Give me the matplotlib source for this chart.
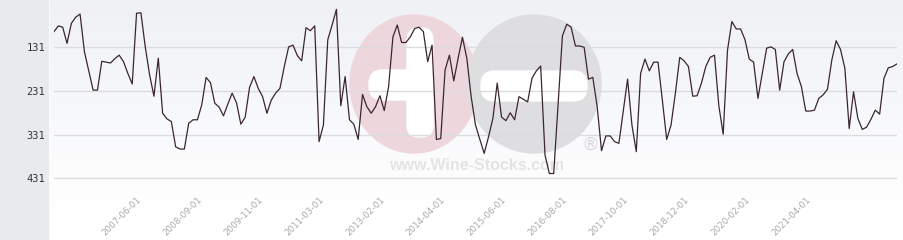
import matplotlib.pyplot as plt
import matplotlib.patches as mpatches
import numpy as np

# rank history (lower = better), one value per observation
ranks = [95, 82, 85, 122, 76, 62, 55, 141, 185, 229,
         229, 163, 165, 167, 157, 149, 164, 191, 215, 53,
         52, 130, 194, 243, 156, 282, 295, 301, 359, 364,
         364, 305, 297, 297, 263, 200, 212, 259, 268, 288,
         261, 236, 258, 307, 291, 223, 198, 225, 244, 282,
         252, 236, 225, 175, 130, 126, 150, 162, 86, 93,
         82, 347, 309, 114, 80, 44, 265, 198, 297, 307,
         342, 239, 267, 282, 267, 242, 276, 221, 107, 80,
         120, 120, 107, 88, 85, 95, 164, 126, 342, 340,
         183, 149, 208, 156, 108, 156, 244, 309, 342, 374,
         336, 294, 213, 291, 299, 281, 297, 244, 250, 256,
         202, 185, 174, 378, 420, 420, 261, 105, 78, 85,
         128, 128, 131, 204, 200, 267, 368, 334, 334, 347,
         351, 278, 204, 309, 370, 191, 158, 185, 165, 165,
         252, 342, 309, 236, 154, 162, 175, 243, 242, 213,
         175, 154, 149, 265, 330, 137, 72, 89, 89, 113,
         158, 165, 248, 191, 133, 130, 136, 229, 164, 146,
         136, 191, 221, 277, 277, 275, 248, 240, 227, 160,
         116, 136, 179, 317, 233, 294, 319, 314, 296, 275,
         284, 202, 178, 175, 169]

date_labels = ["2007-06-01", "2008-09-01", "2009-11-01", "2011-03-01",
               "2013-02-01", "2014-04-01", "2015-06-01", "2016-08-01",
               "2017-10-01", "2018-12-01", "2020-02-01", "2021-04-01"]
label_first = 19   # index of the first labelled observation
label_every = 14

rank_ticks = [131, 231, 331, 431]

W, H = 904, 240
fig = plt.figure(figsize=(W / 100, H / 100), dpi=100)

# --- background: grey label panel + soft gradient + watermark ---
bg = fig.add_axes([0, 0, 1, 1])
bg.set_xlim(0, W)
bg.set_ylim(H, 0)
bg.axis("off")
grad = np.linspace(0, 1, 200).reshape(-1, 1)
top = np.array([0.937, 0.945, 0.961])
bot = np.array([1.0, 1.0, 1.0])
img = top + (bot - top) * np.clip(grad * 1.15, 0, 1)[:, :, None] * np.ones((1, 1, 3))
bg.imshow(img, extent=(50, W, H, 0), aspect="auto", zorder=0)
bg.add_patch(mpatches.Rectangle((0, 0), 48, H, color="#e8ebee", zorder=1))

pink, grey = "#eed6dd", "#dedee1"
bg.add_patch(mpatches.Ellipse((414, 84), 128, 138, color=pink, zorder=2))
bg.add_patch(mpatches.FancyBboxPatch((407, 28), 26, 109, boxstyle="round,pad=0,rounding_size=12",
                                     color="white", zorder=3))
bg.add_patch(mpatches.FancyBboxPatch((369, 70), 64, 30, boxstyle="round,pad=0,rounding_size=14",
                                     color="white", zorder=3))
bg.add_patch(mpatches.Ellipse((534, 84), 134, 138, color=grey, zorder=2))
bg.add_patch(mpatches.FancyBboxPatch((481, 71), 106, 30, boxstyle="round,pad=0,rounding_size=14",
                                     color="white", zorder=3))
bg.text(477, 166, "www.Wine-Stocks.com", ha="center", va="center", fontsize=11.5,
        family="Liberation Sans", fontweight="bold", color="#e4e4e6", zorder=3)
bg.text(591, 145, "®", ha="center", va="center", fontsize=13, color="#dadadc", zorder=3)

# --- main chart ---
ax = fig.add_axes([54 / W, 1 - 190 / H, (897 - 54) / W, 190 / H])
ax.patch.set_alpha(0)
x = np.arange(len(ranks))
ax.plot(x, ranks, color="#3b2630", linewidth=0.9, zorder=3)

ax.set_xlim(0, len(ranks) - 1)
ax.set_ylim(457.8, 22.7)
ax.set_yticks(rank_ticks)
ax.set_yticklabels([str(t) for t in rank_ticks], family="DejaVu Sans Mono",
                   fontsize=7.5, color="#333333")
ax.grid(axis="y", color="#dcdcdf", linewidth=1)
ax.set_axisbelow(True)

tick_pos = [label_first + label_every * i for i in range(len(date_labels))]
ax.set_xticks(tick_pos)
ax.set_xticklabels(date_labels, rotation=45, ha="right", va="top",
                   rotation_mode="anchor", fontsize=6.3, color="#a8a8a8")
ax.tick_params(axis="x", length=0, pad=4)
ax.tick_params(axis="y", length=0, pad=6.5)
for s in ax.spines.values():
    s.set_visible(False)

fig.savefig("out.png", dpi=100)
